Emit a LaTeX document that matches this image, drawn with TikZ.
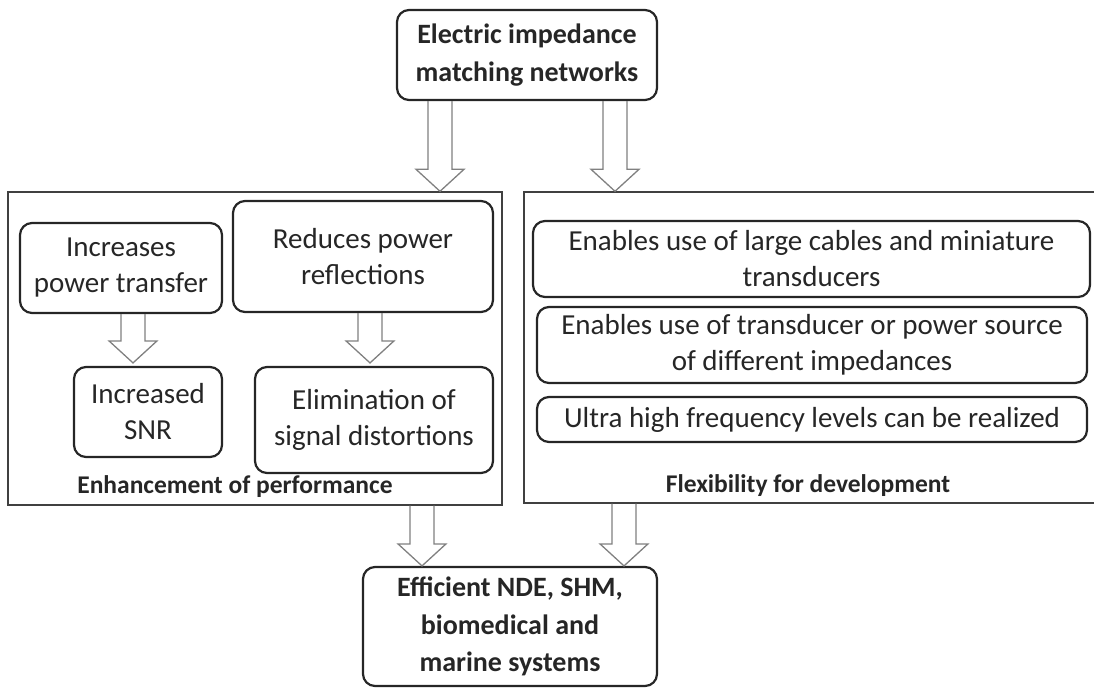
\documentclass[tikz,border=0pt]{standalone}
\usepackage{fontspec}
\setmainfont{Carlito}
\usetikzlibrary{calc}
\newcommand\fsmain{\fontsize{29}{36}\selectfont}
\newcommand\fsbold{\fontsize{28}{37.5}\selectfont}
\newcommand\fslbl{\fontsize{25.5}{28}\selectfont}
\tikzset{
  rbox/.style={draw=black!85, line width=2.2pt, rounded corners=12pt, align=center, inner sep=2pt, font=\fsmain, text=black!85},
  cont/.style={draw=black!75, line width=1.4pt, inner sep=0pt},
  barrow/.style={draw=black!50, line width=1.3pt, line join=miter},
  lbl/.style={font=\bfseries\fslbl, text=black!85, inner sep=0pt},
}
\newcommand\blockarrow[2]{%
  \path[barrow] let \p1=(#1), \p2=(#2) in
  ({\x1-12pt},\y1) -- ({\x1-12pt},{\y2+22pt}) -- ({\x1-24pt},{\y2+22pt}) -- (\x1,\y2)
  -- ({\x1+24pt},{\y2+22pt}) -- ({\x1+12pt},{\y2+22pt}) -- ({\x1+12pt},\y1);}
\begin{document}
\begin{tikzpicture}[x=1pt,y=-1pt]
\useasboundingbox (0,0) rectangle (1094,689);
% top and bottom
\node[rbox, font=\bfseries\fsbold, minimum width=260pt, minimum height=90pt] (top) at (527,55) {Electric impedance\\matching networks};
\node[rbox, font=\bfseries\fsbold, minimum width=294pt, minimum height=119pt] (bot) at (510,626.5) {Efficient NDE, SHM,\\biomedical and\\marine systems};
% containers
\node[cont, minimum width=494pt, minimum height=313pt] (leftC) at (255,348.5) {};
\node[cont, minimum width=574pt, minimum height=311pt] (rightC) at (811,347.5) {};
% left inner
\node[rbox, minimum width=202pt, minimum height=90pt] (inc) at (121,268) {Increases\\power transfer};
\node[rbox, minimum width=260pt, minimum height=111pt] (red) at (363,256.5) {Reduces power\\reflections};
\node[rbox, minimum width=148pt, minimum height=90pt] (snr) at (148,412) {Increased\\SNR};
\node[rbox, minimum width=238pt, minimum height=106pt] (elim) at (374,420) {Elimination of\\signal distortions};
\node[lbl] (lblL) at (235,487) {Enhancement of performance};
% right inner
\node[rbox, minimum width=557pt, minimum height=76pt] (r1) at (811.5,259) {Enables use of large cables and miniature\\transducers};
\node[rbox, minimum width=550pt, minimum height=76pt] (r2) at (812,345) {Enables use of transducer or power source\\of different impedances};
\node[rbox, minimum width=550pt, minimum height=45pt] (r3) at (812,419.5) {Ultra high frequency levels can be realized};
\node[lbl] (lblR) at (808,486) {Flexibility for development};
% arrows
\coordinate (a1s) at ($(top.south)+(-87,0)$);
\coordinate (a1e) at (a1s |- leftC.north);
\coordinate (a2s) at ($(top.south)+(88,0)$);
\coordinate (a2e) at (a2s |- rightC.north);
\coordinate (a3s) at ($(inc.south)+(12,0)$);
\coordinate (a3e) at ($(a3s |- snr.north)+(0,-3)$);
\coordinate (a4s) at ($(red.south)+(7,0)$);
\coordinate (a4e) at ($(a4s |- elim.north)+(0,-3)$);
\coordinate (a5s) at ($(leftC.south)+(167,0)$);
\coordinate (a5e) at (a5s |- bot.north);
\coordinate (a6s) at ($(rightC.south)+(-187,0)$);
\coordinate (a6e) at (a6s |- bot.north);
\blockarrow{a1s}{a1e}
\blockarrow{a2s}{a2e}
\blockarrow{a3s}{a3e}
\blockarrow{a4s}{a4e}
\blockarrow{a5s}{a5e}
\blockarrow{a6s}{a6e}
\end{tikzpicture}
\end{document}
